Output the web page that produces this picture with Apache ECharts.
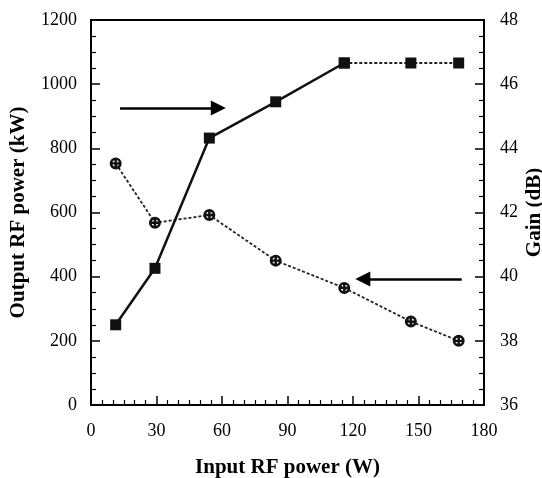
<!DOCTYPE html>
<html>
<head>
<meta charset="utf-8">
<script src="https://cdn.jsdelivr.net/npm/echarts@6/dist/echarts.min.js"></script>
<style>
  html, body { margin: 0; padding: 0; background: #fff; }
  #chart { width: 542px; height: 478px; }
</style>
</head>
<body>
<div id="chart"></div>
<script>
// values
const inputPower = [11.3, 29.3, 54.2, 84.6, 116, 146.5, 168.4]   // W
const outputPower = [250, 426, 832, 945, 1066, 1066, 1066]       // kW
const gain = [43.53, 41.68, 41.92, 40.5, 39.65, 38.6, 38.0]      // dB

// arrows pointing to the axis each curve belongs to
const arrowOutput = [[13.3, 926], [58.3, 926]]
const arrowGain = [[169.8, 39.93], [124.5, 39.93]]

const FONT = 'Liberation Serif'

// circle with a cross inside
const crossCircle = 'path://M0,-10A10,10 0 1,1 0,10A10,10 0 1,1 0,-10Z' +
  'M0,-5.5A5.5,5.5 0 1,0 0,5.5A5.5,5.5 0 1,0 0,-5.5Z' +
  'M-2,-7L2,-7L2,7L-2,7Z' +
  'M-7,-2L7,-2L7,2L-7,2Z'

const pts = (ys) => inputPower.map((x, i) => [x, ys[i]])
const outPts = pts(outputPower)

const chart = echarts.init(document.getElementById('chart'))

const axisCommon = {
  nameMoveOverlap: false,
  axisLine: { show: true, lineStyle: { color: '#000', width: 2 } },
  axisTick: { show: true, inside: true, length: 9, lineStyle: { color: '#000', width: 1.5 } },
  minorTick: { show: true, length: 5, lineStyle: { color: '#000', width: 1.2 } },
  splitLine: { show: false },
  axisLabel: { color: '#000', fontFamily: FONT, fontSize: 18 },
  nameTextStyle: { color: '#000', fontFamily: FONT, fontSize: 21, fontWeight: 'bold' }
}

chart.setOption({
  backgroundColor: '#fff',
  animation: false,
  grid: {
    left: 91, right: 58, top: 20, bottom: 73,
    containLabel: false,
    outerBoundsMode: 'none',
    show: true, borderColor: '#000', borderWidth: 2
  },
  xAxis: {
    ...axisCommon,
    type: 'value',
    min: 0, max: 180, interval: 30,
    minorTick: { ...axisCommon.minorTick, splitNumber: 6 },
    axisLabel: { ...axisCommon.axisLabel, margin: 17 },
    name: 'Input RF power (W)',
    nameLocation: 'middle',
    nameGap: 52
  },
  yAxis: [
    {
      ...axisCommon,
      type: 'value',
      min: 0, max: 1200, interval: 200,
      minorTick: { ...axisCommon.minorTick, splitNumber: 4 },
      axisLabel: { ...axisCommon.axisLabel, margin: 14, formatter: (v) => String(v) },
      name: 'Output RF power (kW)',
      nameLocation: 'middle',
      nameRotate: 90,
      nameGap: 62
    },
    {
      ...axisCommon,
      type: 'value',
      position: 'right',
      min: 36, max: 48, interval: 2,
      minorTick: { ...axisCommon.minorTick, splitNumber: 4 },
      axisLabel: { ...axisCommon.axisLabel, margin: 16 },
      name: 'Gain (dB)',
      nameLocation: 'middle',
      nameRotate: 90,
      nameGap: 40
    }
  ],
  series: [
    {
      name: 'Output RF power',
      type: 'line',
      data: outPts.slice(0, 5),
      symbol: 'rect',
      symbolSize: 11,
      itemStyle: { color: '#111' },
      lineStyle: { color: '#111', width: 2.5 },
      z: 3,
      markLine: {
        silent: true,
        symbol: ['none', 'triangle'],
        symbolSize: [15, 15],
        label: { show: false },
        lineStyle: { color: '#000', width: 2.5, type: 'solid' },
        data: [[{ coord: arrowOutput[0] }, { coord: arrowOutput[1] }]]
      }
    },
    {
      name: 'Output RF power (saturated)',
      type: 'line',
      data: outPts.slice(4),
      symbol: 'rect',
      symbolSize: 11,
      itemStyle: { color: '#111' },
      lineStyle: { color: '#222', width: 1.8, type: [3, 2] },
      z: 3
    },
    {
      name: 'Gain',
      type: 'line',
      yAxisIndex: 1,
      data: pts(gain),
      symbol: crossCircle,
      symbolSize: 12,
      itemStyle: { color: '#111' },
      lineStyle: { color: '#222', width: 1.8, type: [3, 2] },
      z: 2,
      markLine: {
        silent: true,
        symbol: ['none', 'triangle'],
        symbolSize: [15, 15],
        label: { show: false },
        lineStyle: { color: '#000', width: 2.5, type: 'solid' },
        data: [[{ coord: arrowGain[0] }, { coord: arrowGain[1] }]]
      }
    }
  ]
})
</script>
</body>
</html>
